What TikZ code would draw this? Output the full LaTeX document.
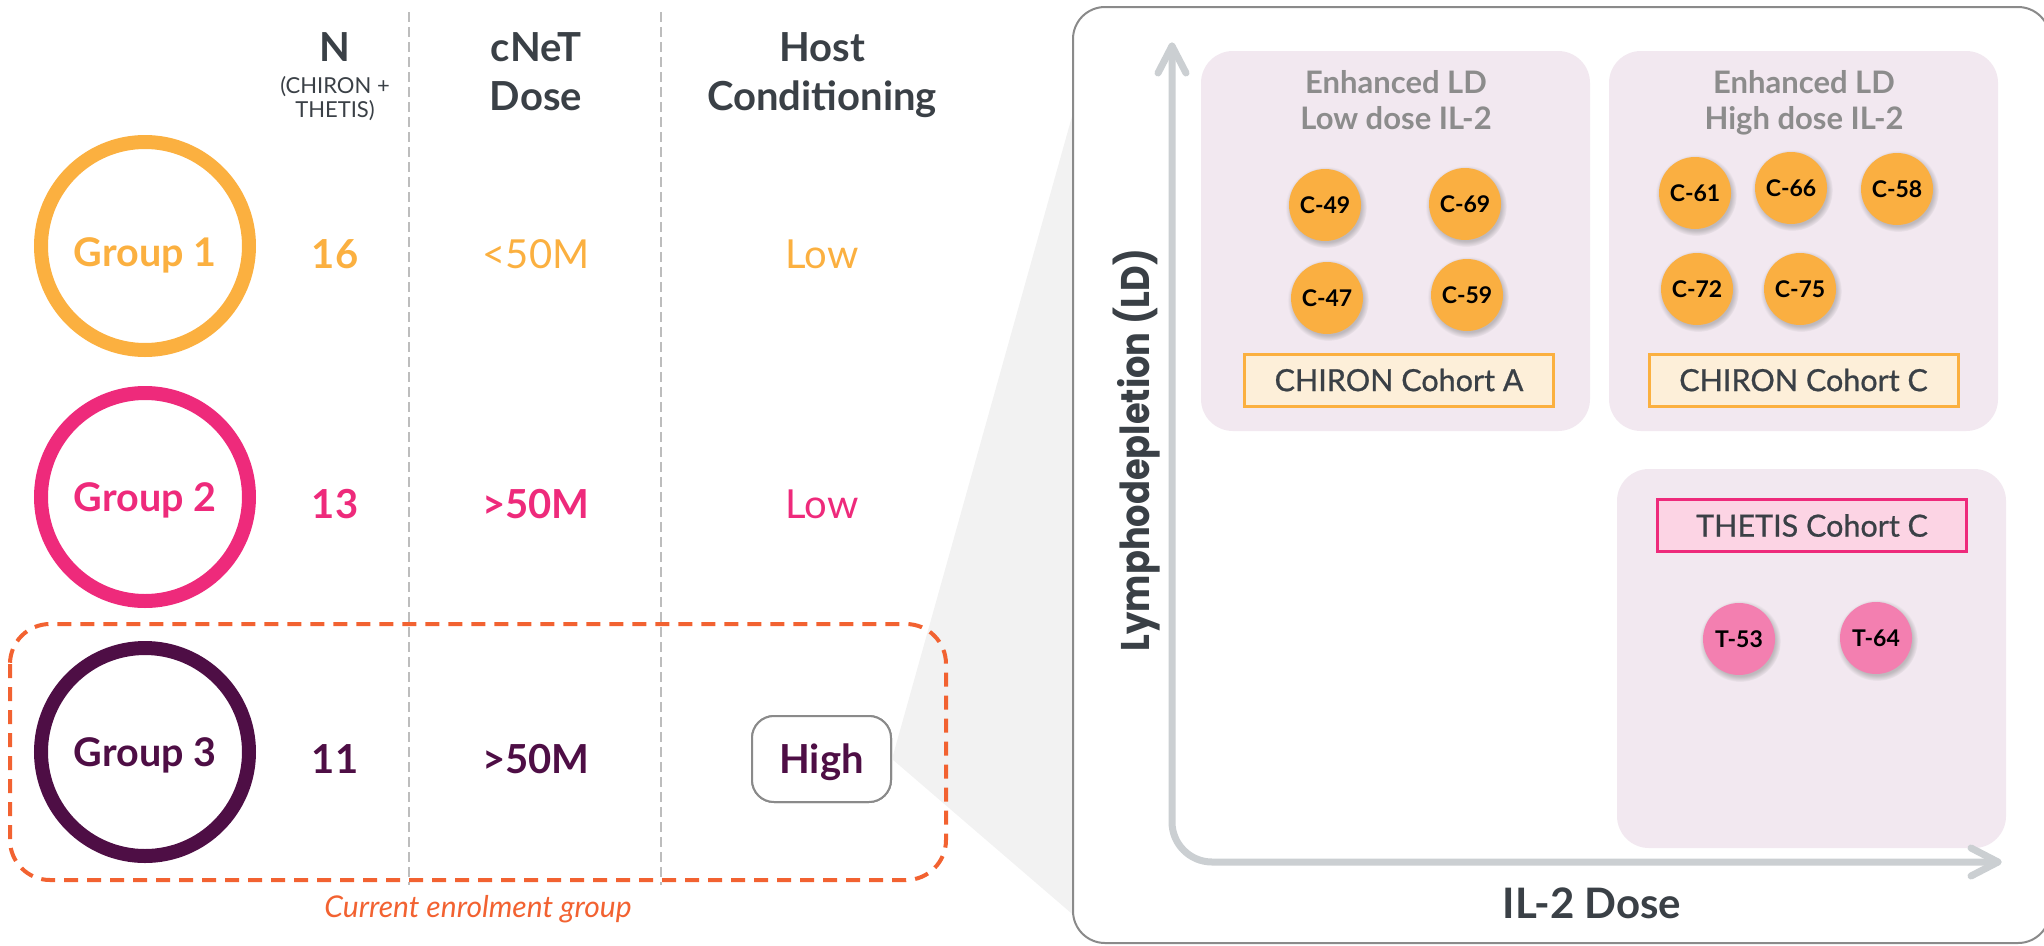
\documentclass[tikz,border=0pt]{standalone}
\usepackage{fontspec}
\setmainfont{Lato}
\newfontfamily\axisfont{Poppins}
\usetikzlibrary{shadows}

\definecolor{gOrange}{HTML}{FBB040}
\definecolor{gPink}{HTML}{EE2A7B}
\definecolor{gPurple}{HTML}{4E0E45}
\definecolor{inkDark}{HTML}{3A4046}
\definecolor{lineGray}{HTML}{BDBDBD}
\definecolor{enrolOrange}{HTML}{F26231}
\definecolor{frameGray}{HTML}{8A8A8A}
\definecolor{wedgeGray}{HTML}{F2F2F2}
\definecolor{zoneFill}{HTML}{F2E8F0}
\definecolor{axisGray}{HTML}{CBCFD2}
\definecolor{dotOrange}{HTML}{FAAF41}
\definecolor{dotPink}{HTML}{F37FB0}
\definecolor{tagCream}{HTML}{FDEFD9}
\definecolor{tagPink}{HTML}{FCD4E4}
\definecolor{zoneText}{HTML}{8C8C8C}

\newcommand\setfs[2]{\fontsize{#1}{#2}\selectfont}

\begin{document}
\begin{tikzpicture}[x=1pt,y=-1pt,
  grouprng/.style={circle, draw=#1, line width=14pt, minimum size=208pt,
    inner sep=0pt, text=#1, text depth=0pt, font=\setfs{39.5}{46}\bfseries},
  headtxt/.style={anchor=base, text=inkDark, font=\setfs{40}{48}\bfseries},
  headsmall/.style={anchor=base, text=inkDark, font=\setfs{22}{24}},
  cellbold/.style={anchor=base, text=#1, font=\setfs{40}{48}\bfseries},
  cellplain/.style={anchor=base, text=#1, font=\setfs{40}{48}},
  highbox/.style={draw=frameGray, line width=2pt, rounded corners=22pt,
    minimum width=139pt, minimum height=86pt, text=gPurple, text depth=0pt,
    font=\setfs{40}{48}\bfseries},
  colsep/.style={draw=lineGray, line width=1.6pt, dash pattern=on 10pt off 5pt},
  enrol/.style={draw=enrolOrange, line width=4pt, dash pattern=on 14pt off 9pt,
    rounded corners=40pt},
  zone/.style={fill=zoneFill, rounded corners=32pt, minimum width=389pt,
    minimum height=380pt, inner sep=0pt},
  zonetxt/.style={anchor=base, text=zoneText, font=\setfs{31}{36}\bfseries},
  tag/.style={draw=#1, line width=3pt, minimum width=309pt, minimum height=52pt,
    inner sep=0pt, text=inkDark,
    font=\setfs{30.5}{36}\addfontfeature{FakeBold=0.8}},
  dot/.style={circle, fill=#1, minimum size=72pt, inner sep=0pt, text=black,
    font=\setfs{23}{27}\bfseries,
    circular drop shadow={shadow xshift=1pt, shadow yshift=-2pt,
      shadow scale=1.13, opacity=0.45}},
  axisline/.style={draw=axisGray, line width=7pt, line cap=round, line join=round},
  axislabel/.style={text=inkDark, font=\setfs{42}{50}\bfseries}
]
\useasboundingbox (0,0) rectangle (2044,945);

% ---------- left table ----------
\node[highbox] (hb) at (821.5,759) {High};

% zoom wedge from the "High" cell to the detail panel
\coordinate (wTop) at (1085,70);
\coordinate (wBot) at (1085,925);
\fill[wedgeGray] (hb.east) -- (wTop) -- (wBot) -- cycle;
\node[highbox, fill=white] (hbt) at (821.5,759) {High};

% column separators
\coordinate (s1a) at (409,12);  \coordinate (s1b) at (409,885);
\coordinate (s2a) at (661,12);  \coordinate (s2b) at (661,885);
\draw[colsep] (s1a) -- (s1b);
\draw[colsep] (s2a) -- (s2b);

% headers
\node[headtxt] (hN) at (335,61.5) {N};
\node[headsmall] (hN2) at (335,93) {(CHIRON +};
\node[headsmall] (hN3) at (335,117) {THETIS)};
\node[headtxt] (hD1) at (536,61.5) {cNeT};
\node[headtxt] (hD2) at (536,110) {Dose};
\node[headtxt] (hH1) at (822,61.5) {Host};
\node[headtxt] (hH2) at (822,110) {Conditioning};

% group rings
\node[grouprng=gOrange, text height=41pt] (g1) at (145,246) {Group 1};
\node[grouprng=gPink]   (g2) at (145,497) {Group 2};
\node[grouprng=gPurple] (g3) at (145,752) {Group 3};

% row values
\node[cellbold=gOrange]  (n1) at (335,268) {16};
\node[cellplain=gOrange] (d1) at (536,268) {<50M};
\node[cellplain=gOrange] (c1) at (822,268) {Low};
\node[cellbold=gPink]    (n2) at (335,518) {13};
\node[cellbold=gPink]    (d2) at (536,518) {>50M};
\node[cellplain=gPink]   (c2) at (822,518) {Low};
\node[cellbold=gPurple]  (n3) at (335,773) {11};
\node[cellbold=gPurple]  (d3) at (536,773) {>50M};

% current enrolment frame
\draw[enrol] (10,624) rectangle (946,880);
\node[anchor=base, text=enrolOrange, font=\setfs{30}{36}\itshape] (cur) at (478,917)
  {Current enrolment group};

% ---------- detail panel ----------
\draw[draw=frameGray, line width=2pt, fill=white, rounded corners=32pt]
  (1073,7) rectangle (2050,943);

\node[zone] (zA) at (1395.5,241) {};
\node[zone] (zC) at (1803.5,241) {};
\node[zone, minimum height=379pt] (zT) at (1811.5,658.5) {};

% axes
\coordinate (yTip) at (1172,46);
\coordinate (org) at (1172,862);
\coordinate (xTip) at (1998,862);
\draw[axisline, rounded corners=40pt] (yTip) -- (org) -- (xTip);
\draw[axisline] (1158,73) -- (yTip) -- (1186,73);
\draw[axisline] (1971,848) -- (xTip) -- (1971,876);

\node[axislabel, rotate=90, font=\setfs{40}{48}] (ylab) at (1137,450)
  {\scalebox{0.88}[1]{\axisfont\bfseries Lymphodepletion (LD)}};
\node[axislabel, anchor=base] (xlab) at (1592,918) {IL-2 Dose};

% zone headings
\node[zonetxt] (zA1) at (1396,93) {Enhanced LD};
\node[zonetxt] (zA2) at (1396,129) {Low dose IL-2};
\node[zonetxt] (zC1) at (1804,93) {Enhanced LD};
\node[zonetxt] (zC2) at (1804,129) {High dose IL-2};

% patients
\node[dot=dotOrange] (p49) at (1325,205) {C-49};
\node[dot=dotOrange] (p69) at (1465,204) {C-69};
\node[dot=dotOrange] (p47) at (1327,298) {C-47};
\node[dot=dotOrange] (p59) at (1467,295) {C-59};
\node[dot=dotOrange] (p61) at (1695,193) {C-61};
\node[dot=dotOrange] (p66) at (1791,188) {C-66};
\node[dot=dotOrange] (p58) at (1897,189) {C-58};
\node[dot=dotOrange] (p72) at (1697,289) {C-72};
\node[dot=dotOrange] (p75) at (1800,289) {C-75};
\node[dot=dotPink] (t53) at (1739,639) {T-53};
\node[dot=dotPink] (t64) at (1876,638) {T-64};

% cohort tags
\node[tag=gOrange, fill=tagCream] (tA) at (1399,380) {CHIRON Cohort A};
\node[tag=gOrange, fill=tagCream] (tC) at (1803.5,380) {CHIRON Cohort C};
\node[tag=gPink, fill=tagPink] (tT) at (1812,525.5) {THETIS Cohort C};
\end{tikzpicture}
\end{document}
